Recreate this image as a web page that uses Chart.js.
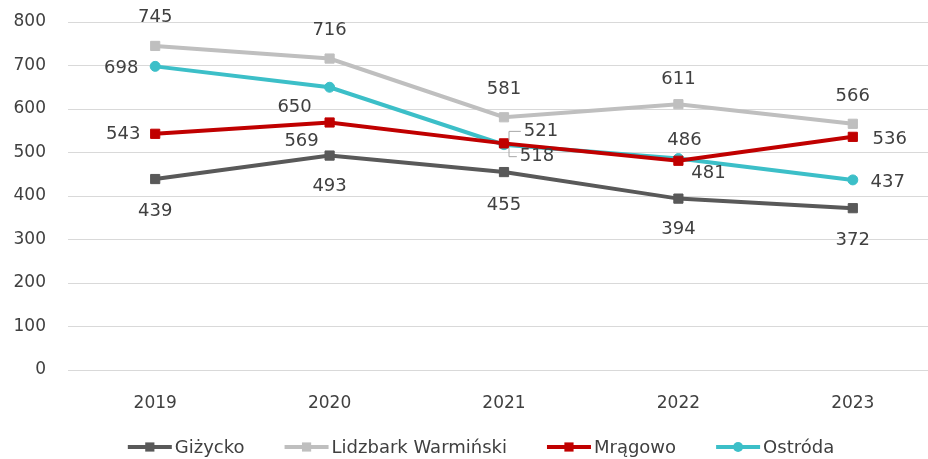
<!DOCTYPE html>
<html>
<head>
<meta charset="utf-8">
<script src="https://cdn.jsdelivr.net/npm/chart.js@4.4.1/dist/chart.umd.min.js"></script>
<style>
html,body{margin:0;padding:0;background:#fff;overflow:hidden;}
#wrap{width:962px;height:459px;position:relative;}
</style>
</head>
<body>
<div id="wrap"><canvas id="c"></canvas></div>
<script>
// ---- data ----
const years = ['2019','2020','2021','2022','2023'];
const gizycko = [439, 493, 455, 394, 372];
const lidzbark = [745, 716, 581, 611, 566];
const mragowo = [543, 569, 521, 481, 536];
const ostroda = [698, 650, 518, 486, 437];
const seriesNames = ['Giżycko', 'Lidzbark Warmiński', 'Mrągowo', 'Ostróda'];
const yTicks = [0, 100, 200, 300, 400, 500, 600, 700, 800];

// ---- label placement (pixel offsets from the point), kept apart from data ----
const labelOffsets = [
  [[0,32],[0,31],[0,33],[0,31],[0,32]],
  [[0,-29],[0,-28],[0,-28],[0,-25],[0,-27]],
  [[-32,1],[-28,19],[37,-12,true],[30,13],[37,2]],
  [[-34,2],[-35,20],[33,12,true],[6,-18],[35,2]]
];

const FONT = 'DejaVu Sans';
const TXT = '#404040';

const colors = ['#595959', '#BFBFBF', '#C00000', '#3CBFC8'];
const styles = ['rect', 'rect', 'rect', 'circle'];
const radii = [6.5, 6.5, 6.5, 5];
const values = [gizycko, lidzbark, mragowo, ostroda];

const datasets = values.map((v, i) => ({
  label: seriesNames[i],
  data: v,
  borderColor: colors[i],
  backgroundColor: colors[i],
  borderWidth: 4,
  pointStyle: styles[i],
  pointRadius: radii[i],
  pointHoverRadius: radii[i],
  pointBorderWidth: 1,
  pointBorderColor: colors[i],
  pointBackgroundColor: colors[i],
  tension: 0
}));

const labelPlugin = {
  id: 'valueLabels',
  afterDatasetsDraw(chart) {
    const ctx = chart.ctx;
    ctx.save();
    ctx.font = '18px "' + FONT + '"';
    ctx.fillStyle = TXT;
    ctx.textAlign = 'center';
    ctx.textBaseline = 'middle';
    chart.data.datasets.forEach((ds, di) => {
      const meta = chart.getDatasetMeta(di);
      meta.data.forEach((pt, j) => {
        const off = labelOffsets[di][j];
        const lx = pt.x + off[0], ly = pt.y + off[1];
        const txt = String(ds.data[j]);
        if (off[2]) {
          const w = ctx.measureText(txt).width;
          const left = lx - w / 2 - 3;
          ctx.save();
          ctx.strokeStyle = '#A6A6A6';
          ctx.lineWidth = 1;
          ctx.beginPath();
          const sx = pt.x + 5;
          const sy = pt.y + (off[1] < 0 ? -3 : 3);
          ctx.moveTo(sx, sy);
          ctx.lineTo(sx, ly);
          ctx.lineTo(left, ly);
          ctx.stroke();
          ctx.restore();
        }
        ctx.fillText(txt, lx, ly);
      });
    });
    ctx.restore();
  }
};

const legendPlugin = {
  id: 'customLegend',
  afterDraw(chart) {
    const ctx = chart.ctx;
    ctx.save();
    ctx.font = '18px "' + FONT + '"';
    ctx.textBaseline = 'middle';
    ctx.textAlign = 'left';
    const lineLen = 44, gapText = 3, gapItem = 40;
    const widths = seriesNames.map(n => lineLen + gapText + ctx.measureText(n).width);
    const total = widths.reduce((a, b) => a + b, 0) + gapItem * (seriesNames.length - 1);
    let x = chart.width / 2 - total / 2;
    const y = 447;
    seriesNames.forEach((n, i) => {
      ctx.strokeStyle = colors[i];
      ctx.lineWidth = 4;
      ctx.beginPath();
      ctx.moveTo(x, y);
      ctx.lineTo(x + lineLen, y);
      ctx.stroke();
      ctx.fillStyle = colors[i];
      ctx.beginPath();
      if (styles[i] === 'circle') {
        ctx.arc(x + lineLen / 2, y, radii[i], 0, Math.PI * 2);
      } else {
        const s = Math.SQRT1_2 * radii[i];
        ctx.rect(x + lineLen / 2 - s, y - s, 2 * s, 2 * s);
      }
      ctx.fill();
      ctx.fillStyle = TXT;
      ctx.fillText(n, x + lineLen + gapText, y + 1);
      x += widths[i] + gapItem;
    });
    ctx.restore();
  }
};

new Chart(document.getElementById('c'), {
  type: 'line',
  data: { labels: years, datasets },
  options: {
    responsive: true,
    maintainAspectRatio: false,
    animation: false,
    events: [],
    layout: { padding: { top: 22, right: 22, left: 0, bottom: 0 } },
    plugins: { legend: { display: false }, tooltip: { enabled: false } },
    scales: {
      x: {
        type: 'category',
        offset: true,
        grid: { display: false, drawTicks: false },
        border: { display: false },
        ticks: { color: TXT, font: { family: FONT, size: 17 }, padding: 23, maxRotation: 0 },
        afterFit(s) { s.height = 89; }
      },
      y: {
        min: 0, max: 800,
        afterBuildTicks(s) { s.ticks = yTicks.map(v => ({ value: v })); },
        grid: { color: '#D9D9D9', lineWidth: 1, drawTicks: false },
        border: { display: false },
        ticks: { color: TXT, font: { family: FONT, size: 17 }, padding: 22 },
        afterFit(s) { s.width = 68; s.paddingTop = 0; s.paddingBottom = 0; }
      }
    }
  },
  plugins: [labelPlugin, legendPlugin]
});
</script>
</body>
</html>
